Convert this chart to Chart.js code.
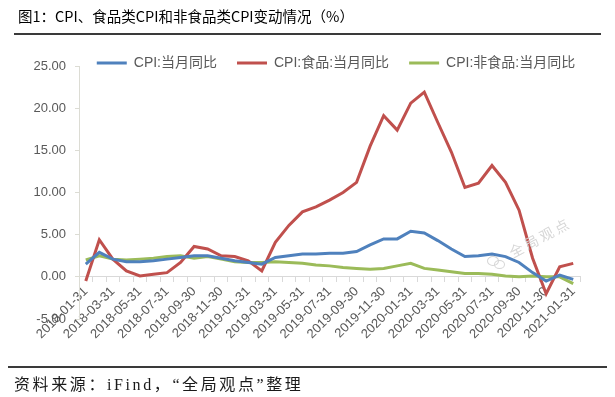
<!DOCTYPE html>
<html>
<head>
<meta charset="utf-8">
<script src="https://cdn.jsdelivr.net/npm/chart.js@4/dist/chart.umd.min.js"></script>
<style>
  html, body { margin: 0; padding: 0; background: #fff; }
  #wrap { position: relative; width: 615px; height: 397px; overflow: hidden; }
  #c { position: absolute; left: 0; top: 0; }
  .title { position: absolute; left: 18px; top: 5px; font-family: "Noto Sans CJK SC", sans-serif; font-size: 14.5px; color: #000; white-space: nowrap; }
  .rule { position: absolute; background: #3a3a3a; height: 2px; }
  .src { position: absolute; left: 14px; top: 371px; font-family: "Liberation Serif", "Noto Sans CJK SC", serif; font-size: 16px; letter-spacing: 2.6px; color: #1a1a1a; white-space: nowrap; }
  .wm { position: absolute; left: 510px; top: 243px; font-family: "Noto Sans CJK SC", sans-serif; font-size: 14px; letter-spacing: 3px; color: #d6d6d6; transform: rotate(-28deg); transform-origin: left center; white-space: nowrap; }
  .bub { position: absolute; border: 1px solid #d6d6d6; border-radius: 50%; }
</style>
</head>
<body>
<div id="wrap">
  <canvas id="c" width="615" height="397"></canvas>
  <div class="title">图1：CPI、食品类CPI和非食品类CPI变动情况（%）</div>
  <div class="rule" style="left:14px; top:33px; width:587px;"></div>
  <div class="bub" style="left:487px; top:256px; width:10px; height:8px;"></div>
  <div class="bub" style="left:494px; top:260px; width:9px; height:7px;"></div>
  <div class="wm">全局观点</div>
  <div class="rule" style="left:8px; top:366px; width:599px;"></div>
  <div class="src">资料来源：iFind，“全局观点”整理</div>
</div>
<script>
const categories = [
  "2018-01-31","2018-02-28","2018-03-31","2018-04-30","2018-05-31","2018-06-30",
  "2018-07-31","2018-08-31","2018-09-30","2018-10-31","2018-11-30","2018-12-31",
  "2019-01-31","2019-02-28","2019-03-31","2019-04-30","2019-05-31","2019-06-30",
  "2019-07-31","2019-08-31","2019-09-30","2019-10-31","2019-11-30","2019-12-31",
  "2020-01-31","2020-02-29","2020-03-31","2020-04-30","2020-05-31","2020-06-30",
  "2020-07-31","2020-08-31","2020-09-30","2020-10-31","2020-11-30","2020-12-31",
  "2021-01-31"
];
const cpiYoY = [
  1.5, 2.9, 2.1, 1.8, 1.8, 1.9, 2.1, 2.3, 2.5, 2.5, 2.2, 1.9,
  1.7, 1.5, 2.3, 2.5, 2.7, 2.7, 2.8, 2.8, 3.0, 3.8, 4.5, 4.5,
  5.4, 5.2, 4.3, 3.3, 2.4, 2.5, 2.7, 2.4, 1.7, 0.5, -0.5, 0.2,
  -0.3
];
const foodYoY = [
  -0.5, 4.4, 2.1, 0.7, 0.1, 0.3, 0.5, 1.7, 3.6, 3.3, 2.5, 2.4,
  1.9, 0.7, 4.1, 6.1, 7.7, 8.3, 9.1, 10.0, 11.2, 15.5, 19.1, 17.4,
  20.6, 21.9, 18.3, 14.8, 10.6, 11.1, 13.2, 11.2, 7.9, 2.2, -2.0, 1.2,
  1.6
];
const nonFoodYoY = [
  2.0, 2.5, 2.1, 2.0, 2.1, 2.2, 2.4, 2.5, 2.2, 2.4, 2.1, 1.8,
  1.7, 1.7, 1.8, 1.7, 1.6, 1.4, 1.3, 1.1, 1.0, 0.9, 1.0, 1.3,
  1.6, 1.0, 0.8, 0.6, 0.4, 0.4, 0.3, 0.1, 0.0, 0.1, 0.0, 0.0,
  -0.8
];
const seriesNames = ["CPI:当月同比", "CPI:食品:当月同比", "CPI:非食品:当月同比"];
const yTicks = [-5, 0, 5, 10, 15, 20, 25];

const colors = ["#4F81BD", "#C0504D", "#9BBB59"];
const datasets = [cpiYoY, foodYoY, nonFoodYoY].map((d, i) => ({
  label: seriesNames[i],
  data: d,
  borderColor: colors[i],
  backgroundColor: colors[i],
  borderWidth: 3,
  pointRadius: 0,
  tension: 0,
  fill: false
}));

const sansFont = '"Liberation Sans", "Noto Sans CJK SC", sans-serif';

// move the legend so it overlaps the top of the plot like the original
const legendShift = {
  id: 'legendShift',
  afterLayout(chart) {
    const l = chart.legend;
    if (!l) return;
    const dx = 336 - (l.left + l.right) / 2;
    l.left += dx; l.right += dx;
    l.top += 14; l.bottom += 14;
  }
};

new Chart(document.getElementById('c'), {
  type: 'line',
  data: { labels: categories, datasets },
  plugins: [legendShift],
  options: {
    responsive: false,
    devicePixelRatio: 1,
    animation: false,
    layout: { padding: { top: 22, left: 25, right: 35, bottom: 78 } },
    plugins: {
      tooltip: { enabled: false },
      legend: {
        position: 'top',
        align: 'center',
        labels: {
          boxWidth: 30,
          boxHeight: 3,
          padding: 20,
          color: '#595959',
          font: { family: sansFont, size: 14 },
          generateLabels(chart) {
            const items = Chart.defaults.plugins.legend.labels.generateLabels(chart);
            items.forEach(it => { it.lineWidth = 0; });
            return items;
          }
        }
      }
    },
    scales: {
      x: {
        type: 'category',
        position: { y: 0 },
        offset: true,
        afterFit(s) { s.height = 10; },
        grid: {
          offset: true,
          drawOnChartArea: false,
          drawTicks: true,
          tickLength: 5,
          color: '#d9d9d9'
        },
        border: { display: true, color: '#d9d9d9', width: 1 },
        ticks: {
          autoSkip: false,
          minRotation: 45,
          maxRotation: 45,
          padding: 2,
          color: '#595959',
          font: { family: sansFont, size: 13 },
          callback(v, i) { return i % 2 === 0 ? categories[i] : ''; }
        }
      },
      y: {
        min: yTicks[0],
        max: yTicks[yTicks.length - 1],
        afterFit(s) { s.width = 54; },
        afterBuildTicks(s) { s.ticks = yTicks.map(v => ({ value: v })); },
        grid: {
          drawOnChartArea: false,
          drawTicks: true,
          tickLength: 4,
          color: '#dcdcd4'
        },
        border: { display: true, color: '#dcdcd4', width: 1 },
        ticks: {
          padding: 9,
          color: '#595959',
          font: { family: sansFont, size: 13 },
          callback(v) { return Number(v).toFixed(2); }
        }
      }
    }
  }
});
</script>
</body>
</html>
